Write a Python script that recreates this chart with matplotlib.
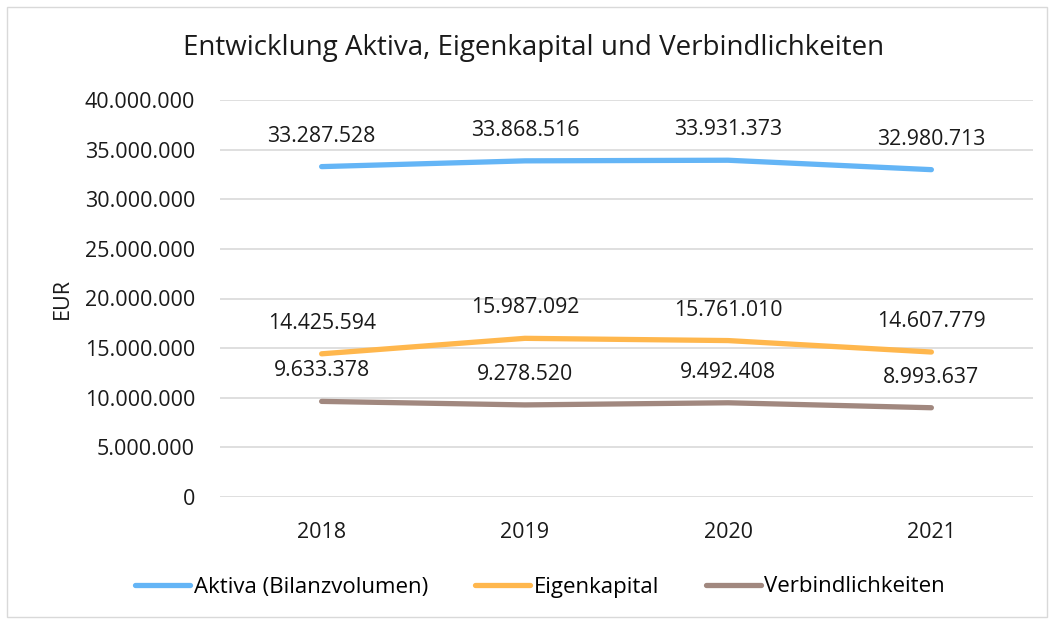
import matplotlib.pyplot as plt
from matplotlib.patches import Rectangle
from matplotlib.ticker import FuncFormatter

# values
years = ['2018', '2019', '2020', '2021']
aktiva = [33287528, 33868516, 33931373, 32980713]
eigenkapital = [14425594, 15987092, 15761010, 14607779]
verbindlichkeiten = [9633378, 9278520, 9492408, 8993637]

series_names = ['Aktiva (Bilanzvolumen)', 'Eigenkapital', 'Verbindlichkeiten']
series_colors = ['#64B5F6', '#FFB74D', '#A1887F']


def de_fmt(v):
    return f'{int(round(v)):,}'.replace(',', '.')


plt.rcParams['font.family'] = ['Open Sans', 'DejaVu Sans']

fig = plt.figure(figsize=(10.54, 6.24), dpi=100)
ax = fig.add_axes([220 / 1054, 1 - 497 / 624, (1033 - 220) / 1054, (497 - 100) / 624])

# light border round the whole chart
fig.patches.append(Rectangle((7 / 1054, 7 / 624), 1040 / 1054, 610 / 624,
                             transform=fig.transFigure, fill=False,
                             edgecolor='#D9D9D9', linewidth=1))

x = list(range(len(years)))
for vals, name, col in zip([aktiva, eigenkapital, verbindlichkeiten], series_names, series_colors):
    ax.plot(x, vals, color=col, linewidth=3.8, solid_capstyle='round', label=name, zorder=3)
    for xi, v in zip(x, vals):
        ax.annotate(de_fmt(v), (xi, v), xytext=(0, 22), textcoords='offset points',
                    ha='center', va='center', fontsize=15.3, color='#1a1a1a')

ax.set_xlim(-0.5, len(years) - 0.5)
ax.set_ylim(0, 40000000)
ax.set_yticks(range(0, 40000001, 5000000))
ax.yaxis.set_major_formatter(FuncFormatter(lambda v, p: de_fmt(v)))
ax.set_xticks(x)
ax.set_xticklabels(years)
ax.tick_params(axis='y', length=0, labelsize=15.5, colors='#1a1a1a', pad=18)
ax.tick_params(axis='x', length=0, labelsize=15.5, colors='#1a1a1a', pad=18)
ax.grid(axis='y', color='#D9D9D9', linewidth=1.2)
ax.set_axisbelow(True)
for s in ax.spines.values():
    s.set_visible(False)

fig.text(62 / 1054, 1 - 298 / 624, 'EUR', rotation=90, ha='center', va='center',
         fontsize=15.5, color='#1a1a1a')
fig.text(534 / 1054, 1 - 48 / 624, 'Entwicklung Aktiva, Eigenkapital und Verbindlichkeiten',
         ha='center', va='center', fontsize=20, color='#1a1a1a')

fig.legend(loc='center', bbox_to_anchor=(540 / 1054, 1 - 587 / 624), ncol=3, frameon=False,
           fontsize=16, handlelength=2.5, handletextpad=0.15, columnspacing=2.1)

fig.savefig('out.png', dpi=100)
